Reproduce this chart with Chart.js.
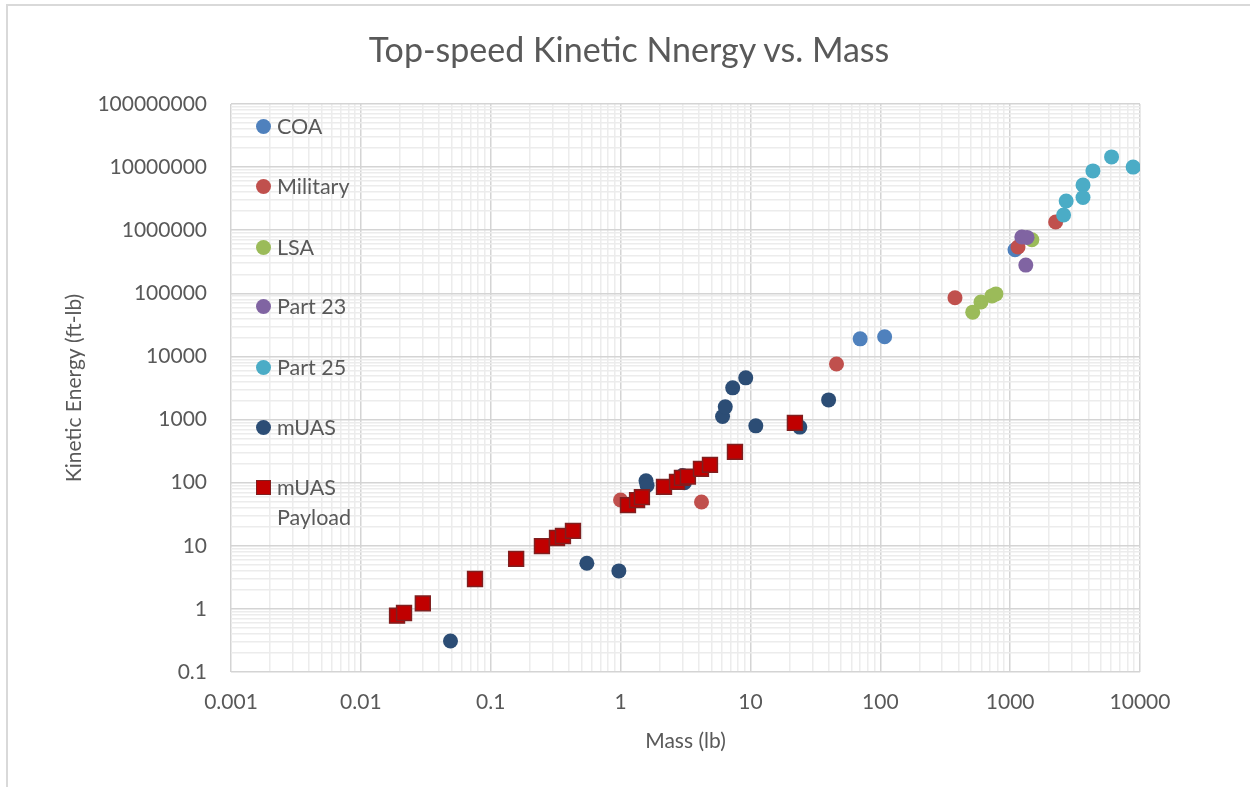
<!DOCTYPE html>
<html>
<head>
<meta charset="utf-8">
<script src="https://cdn.jsdelivr.net/npm/chart.js@4/dist/chart.umd.min.js"></script>
<style>
  body { margin:0; background:#fff; font-family: Lato, "Open Sans", sans-serif; }
  #wrap { position:relative; width:1250px; height:787px; overflow:hidden; }
  #frame { position:absolute; left:6px; top:4px; width:1400px; height:1000px; border-left:2px solid #d9d9d9; border-top:2px solid #d9d9d9; }
  canvas { position:absolute; left:0; top:0; }
  #title { position:absolute; left:0; width:1258px; top:29px; text-align:center; font-size:34px; line-height:40px; color:#595959; white-space:nowrap; }
  #legend { position:absolute; left:0; top:0; color:#595959; font-size:21.5px; }
  .item { position:absolute; left:256px; height:30px; line-height:30px; white-space:nowrap; }
  .mark { position:absolute; left:0; top:8px; width:15px; height:15px; border-radius:50%; }
  .mark.sq { border-radius:0; box-sizing:border-box; border:1.5px solid #7f1f1f; }
  .txt { position:absolute; left:21px; top:0; }
</style>
</head>
<body>
<div id="wrap">
  <div id="frame"></div>
  <canvas id="chart" width="1250" height="787"></canvas>
  <div id="title">Top-speed Kinetic Nnergy vs. Mass</div>
  <div id="legend"></div>
</div>
<script>
// ===== Data (mass lb, kinetic energy ft-lb) =====
const coaMass = [70, 108, 1090];
const coaEnergy = [19000, 20500, 490000];

const militaryMass = [1.0, 4.2, 46, 376, 1150, 2240];
const militaryEnergy = [53, 49.5, 7600, 85000, 543000, 1350000];

const lsaMass = [515, 596, 724, 777, 1470];
const lsaEnergy = [50300, 72800, 91000, 98000, 705000];

const part23Mass = [1230, 1350, 1320];
const part23Energy = [780000, 770000, 280000];

const part25Mass = [2580, 2700, 3640, 3640, 4340, 6040, 8850];
const part25Energy = [1740000, 2900000, 5200000, 3300000, 8700000, 14500000, 10000000];

const muasMass = [0.049, 0.55, 0.97, 1.57, 1.6, 3.0, 3.1, 6.1, 6.4, 7.3, 9.2, 11, 24, 40];
const muasEnergy = [0.31, 5.3, 4.0, 107, 90, 130, 100, 1120, 1590, 3180, 4580, 795, 760, 2050];

const payloadMass = [0.019, 0.0215, 0.030, 0.0757, 0.157, 0.248, 0.324, 0.36, 0.43, 1.14, 1.34, 1.46, 2.16, 2.72, 2.97, 3.3, 4.16, 4.88, 7.6, 22];
const payloadEnergy = [0.78, 0.86, 1.22, 2.98, 6.2, 9.9, 13.3, 14.3, 17.2, 44, 53, 59, 86, 103, 119, 125, 165, 191, 307, 885];

const seriesNames = ["COA", "Military", "LSA", "Part 23", "Part 25", "mUAS", "mUAS Payload"];
const seriesColors = ["#4f81bd", "#c0504d", "#9bbb59", "#8064a2", "#4bacc6", "#2c4d75", "#c00000"];

const xTickLabels = ["0.001", "0.01", "0.1", "1", "10", "100", "1000", "10000"];
const yTickLabels = ["0.1", "1", "10", "100", "1000", "10000", "100000", "1000000", "10000000", "100000000"];

// ===== Helpers =====
function zip(xs, ys){ return xs.map((x,i)=>({x, y:ys[i]})); }
function isDecade(v){ const l=Math.log10(v); return Math.abs(l-Math.round(l))<1e-9; }
function logTicks(labels){
    const out=[];
    labels.forEach((s,i)=>{
        const base=Number(s);
        if(i===labels.length-1){ out.push({value:base}); return; }
        for(let m=1;m<=9;m++) out.push({value:base*m});
    });
    return out;
}
function labelFor(labels){
    return v => labels.find(s=>Math.abs(Math.log10(Number(s))-Math.log10(v))<1e-9) || "";
}

const seriesData = [
    zip(coaMass, coaEnergy),
    zip(militaryMass, militaryEnergy),
    zip(lsaMass, lsaEnergy),
    zip(part23Mass, part23Energy),
    zip(part25Mass, part25Energy),
    zip(muasMass, muasEnergy),
    zip(payloadMass, payloadEnergy)
];

const datasets = seriesData.map((d,i)=>{
    const sq = i===6;
    return {
        label: seriesNames[i],
        data: d,
        order: 6-i,
        pointStyle: sq ? "rect" : "circle",
        pointRadius: sq ? 10.5 : 7.5,
        backgroundColor: seriesColors[i],
        borderColor: sq ? "#7f1f1f" : seriesColors[i],
        borderWidth: sq ? 1.5 : 0
    };
});

// ===== Legend (inside plot area) =====
const legendY = [126, 186, 247, 306, 367, 427, 487];
const legend = document.getElementById("legend");
seriesNames.forEach((name,i)=>{
    const it=document.createElement("div");
    it.className="item";
    it.style.top=(legendY[i]-15)+"px";
    const sq = i===6;
    const parts = sq ? name.split(" ") : [name];
    it.innerHTML=`<div class="mark${sq?" sq":""}" style="background:${seriesColors[i]}"></div>`+
        `<div class="txt">${parts.join("<br>")}</div>`;
    legend.appendChild(it);
});

// ===== Chart =====
Chart.defaults.font.family = "Lato, 'Open Sans', sans-serif";
const gridColor = c => (c.tick && isDecade(c.tick.value)) ? "#d4d4d4" : "#ececec";
const textColor = "#595959";

new Chart(document.getElementById("chart"), {
    type: "scatter",
    data: { datasets },
    options: {
        responsive: false,
        animation: false,
        events: [],
        layout: { padding: { left: 0, right: 110, top: 104, bottom: 0 } },
        plugins: {
            legend: { display: false },
            tooltip: { enabled: false },
            title: { display: false }
        },
        scales: {
            x: {
                type: "logarithmic",
                min: 0.001, max: 10000,
                afterBuildTicks: s => { s.ticks = logTicks(xTickLabels); },
                afterFit: s => { s.height = 115; },
                grid: { color: gridColor, lineWidth: 1.5, drawTicks: false },
                border: { display: false },
                ticks: { autoSkip: false, maxRotation: 0, padding: 18, color: textColor, font: { size: 21 }, callback: labelFor(xTickLabels) },
                title: { display: true, text: "Mass (lb)", color: textColor, font: { size: 21 }, padding: { bottom: 33 } }
            },
            y: {
                type: "logarithmic",
                min: 0.1, max: 100000000,
                afterBuildTicks: s => { s.ticks = logTicks(yTickLabels); },
                afterFit: s => { s.width = 231; },
                grid: { color: gridColor, lineWidth: 1.5, drawTicks: false },
                border: { display: false },
                ticks: { autoSkip: false, padding: 24, color: textColor, font: { size: 21 }, callback: labelFor(yTickLabels) },
                title: { display: true, text: "Kinetic Energy (ft-lb)", color: textColor, font: { size: 21 }, padding: { top: 62 } }
            }
        }
    }
});
</script>
</body>
</html>
